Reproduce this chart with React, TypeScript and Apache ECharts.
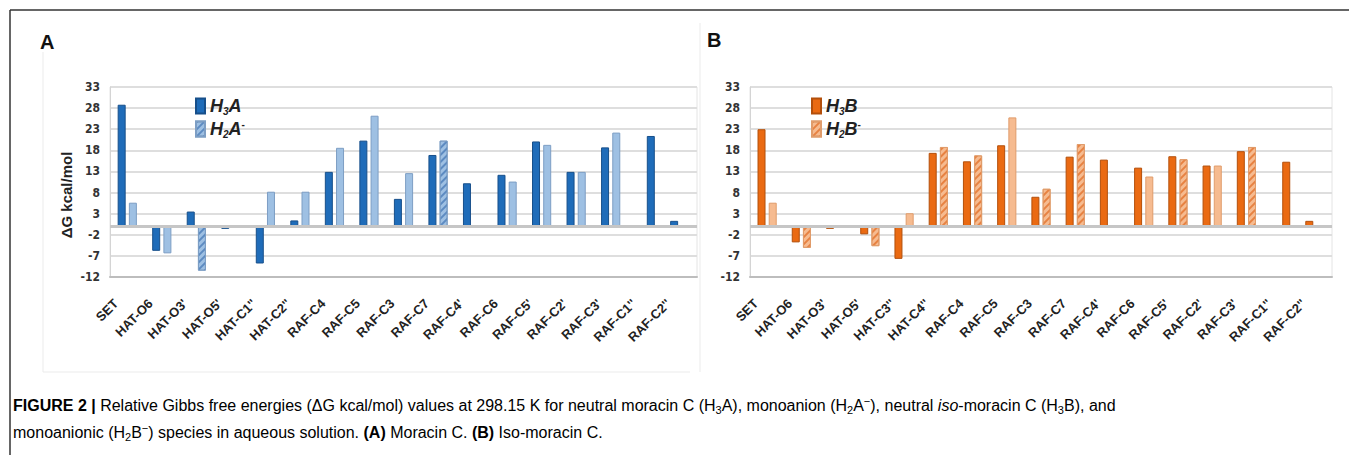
import React, { useEffect, useRef } from "react";
import * as echarts from "echarts";

const categoriesA = ["SET", "HAT-O6", "HAT-O3'", "HAT-O5'", "HAT-C1''", "HAT-C2''", "RAF-C4", "RAF-C5", "RAF-C3", "RAF-C7", "RAF-C4'", "RAF-C6", "RAF-C5'", "RAF-C2'", "RAF-C3'", "RAF-C1''", "RAF-C2''"];
const h3a = [28.8, -5.8, 3.5, -0.6, -8.8, 1.4, 12.9, 20.3, 6.5, 16.9, 10.2, 12.2, 20.1, 12.9, 18.7, 21.4, 1.3];
const h2a = [5.6, -6.4, -10.5, null, 8.2, 8.2, 18.6, 26.2, 12.6, 20.3, null, 10.6, 19.3, 12.9, 22.2, null, null];

const categoriesB = ["SET", "HAT-O6", "HAT-O3'", "HAT-O5'", "HAT-C3''", "HAT-C4''", "RAF-C4", "RAF-C5", "RAF-C3", "RAF-C7", "RAF-C4'", "RAF-C6", "RAF-C5'", "RAF-C2'", "RAF-C3'", "RAF-C1''", "RAF-C2''"];
const h3b = [23.0, -3.8, -0.6, -1.9, -7.7, 17.4, 15.4, 19.2, 7.0, 16.5, 15.8, 13.9, 16.6, 14.4, 17.8, 15.3, 1.3];
const h2b = [5.6, -5.1, null, -4.7, 3.1, 18.8, 16.8, 25.8, 8.9, 19.5, null, 11.8, 15.9, 14.4, 18.8, null, null];

// light bars drawn with a hatch pattern
const hatchedA = [2, 9];
const hatchedB = [1, 3, 5, 6, 8, 9, 12, 14];
// category whose neutral bar sits in the second slot of the cluster
const shiftedIdx = 15;

const yMin = -12;
const yMax = 33;
const yStep = 5;

const FONT = '"Liberation Sans", Arial, sans-serif';
const NARROW = '"Liberation Sans Narrow", "DejaVu Sans Condensed", "Liberation Sans", sans-serif';

const blueDark = "#1f6cb9";
const blueDarkBorder = "#174f8a";
const blueLight = "#9ec0e3";
const blueLightBorder = "#7d9ec4";
const orangeDark = "#ea6a12";
const orangeDarkBorder = "#b34f0b";
const orangeLight = "#f6bb90";
const orangeLightBorder = "#e09c6b";

function makeDecal(color: string) {
  return {
    symbol: "rect",
    symbolSize: 1,
    dashArrayX: [1, 0],
    dashArrayY: [1.6, 2.2],
    rotation: -Math.PI / 4,
    color,
  };
}

function buildPanel(
  idx: number,
  dark: (number | null)[],
  light: (number | null)[],
  hatched: number[],
  names: [string, string],
  colors: { d: string; db: string; l: string; lb: string; hatch: string }
) {
  const darkData = dark.map((v, i) => (i === shiftedIdx ? null : v));
  const lightData = light.map((v, i) => {
    if (i === shiftedIdx && v === null) {
      return { value: dark[i], itemStyle: { color: colors.d, borderColor: colors.db, decal: "none" } };
    }
    if (v === null) return null;
    return hatched.includes(i) ? v : { value: v, itemStyle: { decal: "none" } };
  });
  const zeroLine = {
    silent: true,
    symbol: "none",
    label: { show: false },
    lineStyle: { color: "#c6c6c6", width: 3, type: "solid" },
    data: [{ yAxis: 0 }],
  };
  return [
    {
      name: names[0],
      type: "bar",
      xAxisIndex: idx,
      yAxisIndex: idx,
      data: darkData,
      barWidth: 8,
      barGap: "40%",
      itemStyle: { color: colors.d, borderColor: colors.db, borderWidth: 1 },
      markLine: zeroLine,
      z: 3,
    },
    {
      name: names[1],
      type: "bar",
      xAxisIndex: idx,
      yAxisIndex: idx,
      data: lightData,
      barWidth: 8,
      barGap: "40%",
      itemStyle: { color: colors.l, borderColor: colors.lb, borderWidth: 1, decal: makeDecal(colors.hatch) },
      z: 3,
    },
  ];
}

const legendRich = {
  i: { fontFamily: FONT, fontSize: 18, fontWeight: "bold", fontStyle: "italic", color: "#222" },
  s: { fontFamily: FONT, fontSize: 10, fontWeight: "bold", fontStyle: "italic", color: "#222", padding: [11, 0, 0, 0] },
  p: { fontFamily: FONT, fontSize: 10, fontWeight: "bold", color: "#222", padding: [0, 0, 9, 0] },
};

function legendFormatter(name: string) {
  const letter = name.includes("A") ? "A" : "B";
  if (name.endsWith("-")) return `{i|H}{s|2}{i|${letter}}{p|-}`;
  return `{i|H}{s|3}{i|${letter}}`;
}

function xAxisDef(idx: number, cats: string[]) {
  return {
    gridIndex: idx,
    type: "category",
    data: cats,
    axisTick: { show: false },
    axisLine: { onZero: false, lineStyle: { color: "#bdbdbd", width: 2 } },
    axisLabel: {
      rotate: 45,
      interval: 0,
      fontFamily: FONT,
      fontSize: 13,
      fontWeight: "bold",
      color: "#222",
      margin: 13,
      padding: [0, 16, 0, 0],
    },
  };
}

function yAxisDef(idx: number) {
  return {
    gridIndex: idx,
    type: "value",
    min: yMin,
    max: yMax,
    interval: yStep,
    axisLine: { show: true, lineStyle: { color: "#d4d4d4", width: 1 } },
    axisTick: { show: false },
    splitLine: { lineStyle: { color: "#dedede", width: 2 } },
    axisLabel: { fontFamily: NARROW, fontSize: 12, fontWeight: "bold", color: "#333", margin: 10 },
  };
}

const caption1 =
  "{b|FIGURE 2 |}{n| Relative Gibbs free energies (ΔG kcal/mol) values at 298.15 K for neutral moracin C (H}{sub|3}{n|A), monoanion (H}{sub|2}{n|A}{sup|−}{n|), neutral }{i|iso}{n|-moracin C (H}{sub|3}{n|B), and}";
const caption2 =
  "{n|monoanionic (H}{sub|2}{n|B}{sup|−}{n|) species in aqueous solution. }{b|(A)}{n| Moracin C. }{b|(B)}{n| Iso-moracin C.}";

const captionRich = {
  n: { fontFamily: FONT, fontSize: 16, color: "#333", lineHeight: 22 },
  i: { fontFamily: FONT, fontSize: 16, fontStyle: "italic", color: "#333", lineHeight: 22 },
  b: { fontFamily: FONT, fontSize: 16, fontWeight: "bold", color: "#333", lineHeight: 22 },
  sub: { fontFamily: FONT, fontSize: 11, color: "#333", lineHeight: 22, padding: [9, 0, 0, 0] },
  sup: { fontFamily: FONT, fontSize: 11, color: "#333", lineHeight: 22, padding: [0, 0, 9, 0] },
};

export default function App() {
  const ref = useRef<HTMLDivElement>(null);
  useEffect(() => {
    if (!ref.current) return;
    const chart = echarts.init(ref.current, undefined, { renderer: "svg" });
    const legendBase = {
      orient: "vertical",
      top: 92,
      itemWidth: 9,
      itemHeight: 15,
      itemGap: 3,
      icon: "rect",
      formatter: legendFormatter,
      textStyle: { rich: legendRich },
      selectedMode: false,
    };
    const option: any = {
      animation: false,
      backgroundColor: "#ffffff",
      grid: [
        { left: 110, top: 87, width: 587, height: 190, show: true, borderColor: "#e4e4e4", borderWidth: 1 },
        { left: 750, top: 87, width: 582, height: 190, show: true, borderColor: "#e4e4e4", borderWidth: 1 },
      ],
      xAxis: [xAxisDef(0, categoriesA), xAxisDef(1, categoriesB)],
      yAxis: [yAxisDef(0), yAxisDef(1)],
      legend: [
        { ...legendBase, data: ["H3A", "H2A-"], left: 190 },
        { ...legendBase, data: ["H3B", "H2B-"], left: 806 },
      ],
      series: [
        ...buildPanel(0, h3a, h2a, hatchedA, ["H3A", "H2A-"], {
          d: blueDark,
          db: blueDarkBorder,
          l: blueLight,
          lb: blueLightBorder,
          hatch: "rgba(40,95,165,0.55)",
        }),
        ...buildPanel(1, h3b, h2b, hatchedB, ["H3B", "H2B-"], {
          d: orangeDark,
          db: orangeDarkBorder,
          l: orangeLight,
          lb: orangeLightBorder,
          hatch: "rgba(225,110,40,0.75)",
        }),
      ],
      graphic: [
        { type: "line", shape: { x1: 10, y1: 10, x2: 1349, y2: 10 }, style: { stroke: "#333", lineWidth: 1.5 } },
        { type: "line", shape: { x1: 10, y1: 10, x2: 10, y2: 455 }, style: { stroke: "#333", lineWidth: 1.5 } },
        { type: "line", shape: { x1: 43, y1: 52, x2: 43, y2: 372 }, style: { stroke: "#ebebeb", lineWidth: 1 } },
        { type: "line", shape: { x1: 43, y1: 372, x2: 690, y2: 372 }, style: { stroke: "#ebebeb", lineWidth: 1 } },
        { type: "line", shape: { x1: 700, y1: 23, x2: 700, y2: 372 }, style: { stroke: "#ebebeb", lineWidth: 1 } },
        { type: "text", x: 40, y: 42, style: { text: "A", fontFamily: FONT, fontSize: 20, fontWeight: "bold", fill: "#111", verticalAlign: "middle" } },
        { type: "text", x: 707, y: 40, style: { text: "B", fontFamily: FONT, fontSize: 20, fontWeight: "bold", fill: "#111", verticalAlign: "middle" } },
        {
          type: "text",
          x: 66,
          y: 195,
          rotation: Math.PI / 2,
          style: { text: "ΔG kcal/mol", fontFamily: FONT, fontSize: 15, fontWeight: "bold", fill: "#222", align: "center", verticalAlign: "middle" },
        },
        { type: "text", x: 13, y: 405, style: { text: caption1, rich: captionRich, verticalAlign: "middle" } },
        { type: "text", x: 13, y: 432, style: { text: caption2, rich: captionRich, verticalAlign: "middle" } },
      ],
    };
    chart.setOption(option);
    return () => chart.dispose();
  }, []);
  return <div ref={ref} style={{ position: "fixed", left: 0, top: 0, width: 1349, height: 455 }} />;
}
